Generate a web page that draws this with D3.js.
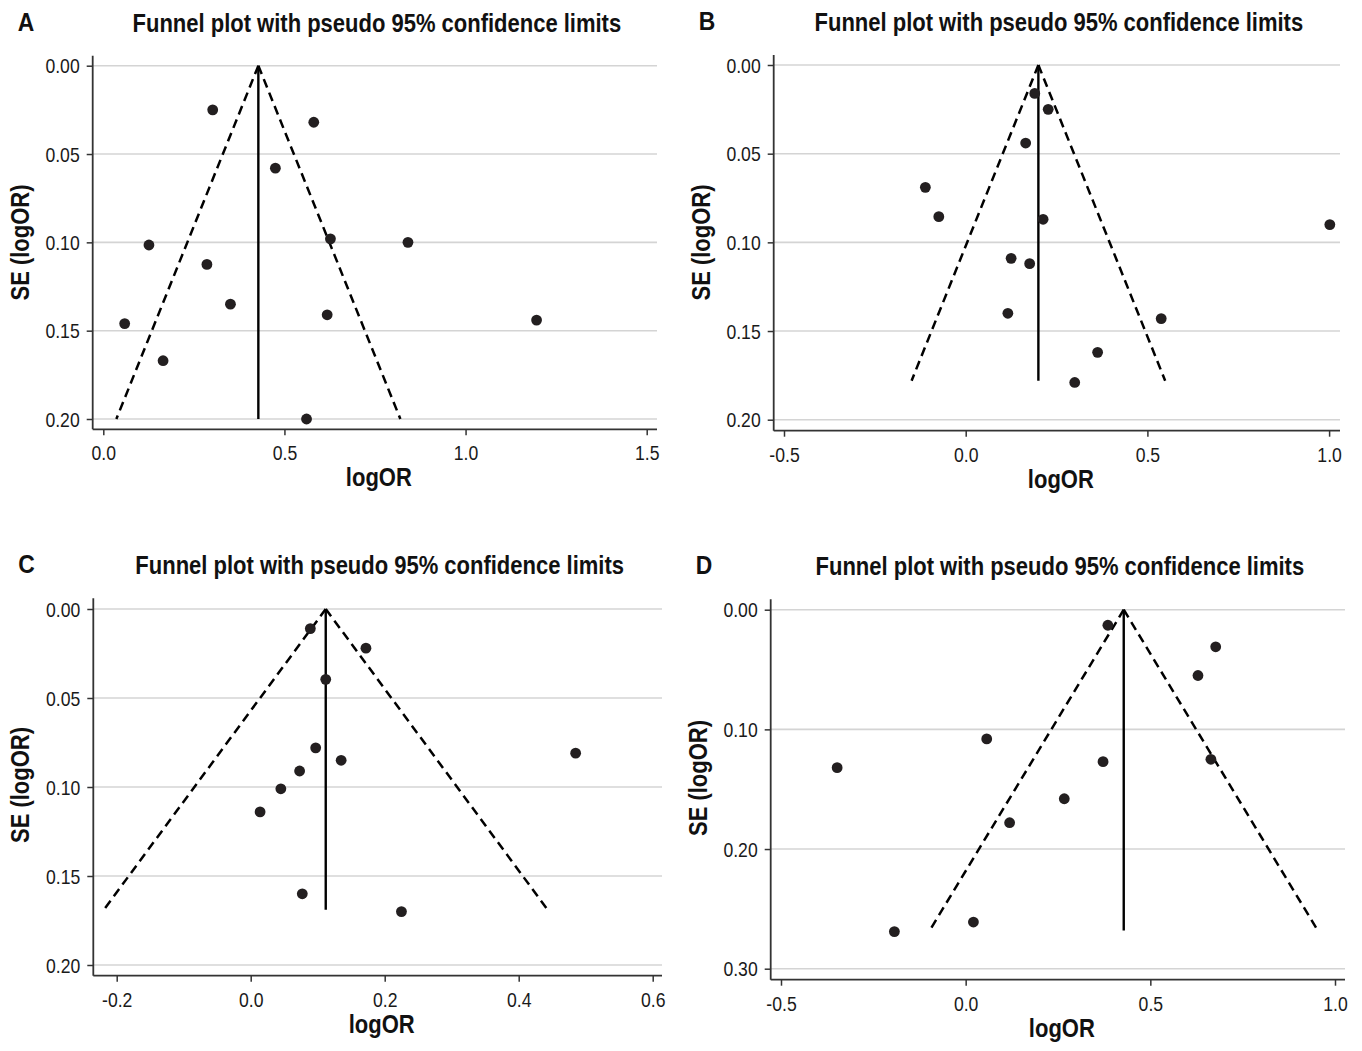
<!DOCTYPE html>
<html>
<head>
<meta charset="utf-8">
<script src="https://cdn.jsdelivr.net/npm/d3@7"></script>
<style>
  body { margin: 0; background: #fff; }
  svg { display: block; }
  .tick line { stroke: #333; stroke-width: 1.5; }
  .tick text { font-family: "Liberation Sans", Arial, sans-serif; fill: #1a1a1a; }
</style>
</head>
<body>
<div id="chart"></div>
<script>
// ---- data ----
var titleText = "Funnel plot with pseudo 95% confidence limits";
var xLabel = "logOR";
var yLabel = "SE (logOR)";

// panel A
var logorA = [0.302, 0.581, 0.475, 0.126, 0.627, 0.841, 0.286, 0.351, 0.059, 0.618, 1.196, 0.165, 0.561];
var seA    = [0.025, 0.032, 0.058, 0.1015, 0.098, 0.100, 0.1125, 0.135, 0.146, 0.141, 0.144, 0.167, 0.200];
var thetaA = 0.428, seMaxA = 0.200;
var xTicksA = [0, 0.5, 1.0, 1.5];
var yTicksA = [0, 0.05, 0.10, 0.15, 0.20];

// panel B
var logorB = [0.190, 0.227, 0.165, -0.111, -0.074, 0.213, 1.002, 0.125, 0.176, 0.116, 0.538, 0.363, 0.300];
var seB    = [0.016, 0.025, 0.044, 0.069, 0.0855, 0.087, 0.090, 0.109, 0.112, 0.140, 0.143, 0.162, 0.179];
var thetaB = 0.200, seMaxB = 0.178;
var xTicksB = [-0.5, 0, 0.5, 1.0];
var yTicksB = [0, 0.05, 0.10, 0.15, 0.20];

// panel C
var logorC = [0.089, 0.172, 0.112, 0.097, 0.135, 0.073, 0.045, 0.014, 0.485, 0.077, 0.225];
var seC    = [0.011, 0.022, 0.0395, 0.078, 0.085, 0.091, 0.101, 0.114, 0.081, 0.160, 0.170];
var thetaC = 0.112, seMaxC = 0.169;
var xTicksC = [-0.2, 0, 0.2, 0.4, 0.6];
var yTicksC = [0, 0.05, 0.10, 0.15, 0.20];

// panel D
var logorD = [0.385, 0.677, 0.629, 0.057, -0.348, 0.372, 0.664, 0.267, 0.119, 0.021, -0.193];
var seD    = [0.013, 0.031, 0.055, 0.108, 0.132, 0.127, 0.125, 0.158, 0.178, 0.261, 0.269];
var thetaD = 0.428, seMaxD = 0.268;
var xTicksD = [-0.5, 0, 0.5, 1.0];
var yTicksD = [0, 0.10, 0.20, 0.30];

// ---- layout (pixels) ----
var panels = [
    { letter: "A", x: logorA, se: seA, theta: thetaA, seMax: seMaxA, xTicks: xTicksA, yTicks: yTicksA,
      frame: { l: 92.7, r: 657, t: 55.7, b: 429.3 }, xPix: [103.3, 646.7], yPix: [65.7, 419], yTitleY: 242.5 },
    { letter: "B", x: logorB, se: seB, theta: thetaB, seMax: seMaxB, xTicks: xTicksB, yTicks: yTicksB,
      frame: { l: 773.7, r: 1340, t: 55, b: 430.7 }, xPix: [784, 1329.1], yPix: [65, 419.7], yTitleY: 242.5 },
    { letter: "C", x: logorC, se: seC, theta: thetaC, seMax: seMaxC, xTicks: xTicksC, yTicks: yTicksC,
      frame: { l: 93.3, r: 662, t: 598.3, b: 975.7 }, xPix: [116.7, 652.7], yPix: [609, 965], yTitleY: 785 },
    { letter: "D", x: logorD, se: seD, theta: thetaD, seMax: seMaxD, xTicks: xTicksD, yTicks: yTicksD,
      frame: { l: 770.7, r: 1345, t: 599.3, b: 979.7 }, xPix: [781, 1335], yPix: [609.7, 968.7], yTitleY: 778 }
];

var width = 1362, height = 1051;
var svg = d3.select("#chart").append("svg")
    .attr("width", width)
    .attr("height", height);

var font = "'Liberation Sans', Arial, sans-serif";

// the original uses a condensed face, so regular glyphs are squeezed sideways
function label(g, str, x, y, size, squeeze, anchor, rotate) {
    return g.append("text")
        .attr("transform", "translate(" + x + "," + y + ")" + (rotate ? " rotate(" + rotate + ")" : "") +
              " scale(" + squeeze + ",1)")
        .attr("text-anchor", anchor)
        .attr("font-family", font).attr("font-weight", "bold").attr("font-size", size)
        .attr("fill", "#111")
        .text(str);
}

function drawPanel(p) {
    var g = svg.append("g").attr("class", "panel");
    var f = p.frame;

    var x = d3.scaleLinear()
        .domain([p.xTicks[0], p.xTicks[p.xTicks.length - 1]])
        .range(p.xPix);
    var y = d3.scaleLinear()
        .domain([p.yTicks[0], p.yTicks[p.yTicks.length - 1]])
        .range(p.yPix);

    // gridlines
    g.selectAll(".grid")
        .data(p.yTicks)
        .enter().append("line")
        .attr("class", "grid")
        .attr("x1", f.l).attr("x2", f.r)
        .attr("y1", function (d) { return y(d); })
        .attr("y2", function (d) { return y(d); })
        .attr("stroke", "#d4d4d4")
        .attr("stroke-width", 1.6);

    // axes
    var xAxis = d3.axisBottom(x)
        .tickValues(p.xTicks)
        .tickSize(6)
        .tickFormat(function (d) { return d.toFixed(1); });
    var yAxis = d3.axisLeft(y)
        .tickValues(p.yTicks)
        .tickSize(6)
        .tickFormat(function (d) { return d.toFixed(2); });

    var gx = g.append("g").attr("transform", "translate(0," + f.b + ")").call(xAxis);
    gx.select(".domain").remove();
    gx.selectAll(".tick text")
        .attr("y", 0).attr("dy", null)
        .attr("font-size", 21)
        .attr("transform", "translate(0,31) scale(0.84,1)");

    var gy = g.append("g").attr("transform", "translate(" + f.l + ",0)").call(yAxis);
    gy.select(".domain").remove();
    gy.selectAll(".tick text")
        .attr("x", 0).attr("dy", "0.36em")
        .attr("font-size", 20)
        .attr("transform", "translate(-13,0) scale(0.88,1)");

    g.append("line")
        .attr("x1", f.l).attr("x2", f.r).attr("y1", f.b).attr("y2", f.b)
        .attr("stroke", "#333").attr("stroke-width", 1.8);
    g.append("line")
        .attr("x1", f.l).attr("x2", f.l).attr("y1", f.t).attr("y2", f.b)
        .attr("stroke", "#333").attr("stroke-width", 1.8);

    // pseudo 95% limits
    var lo = p.theta - 1.96 * p.seMax, hi = p.theta + 1.96 * p.seMax;
    var line = d3.line()
        .x(function (d) { return x(d[0]); })
        .y(function (d) { return y(d[1]); });
    [[[p.theta, 0], [lo, p.seMax]], [[p.theta, 0], [hi, p.seMax]]].forEach(function (seg) {
        g.append("path")
            .attr("d", line(seg))
            .attr("fill", "none")
            .attr("stroke", "#000")
            .attr("stroke-width", 2.5)
            .attr("stroke-dasharray", "9,5.5");
    });
    g.append("path")
        .attr("d", line([[p.theta, p.seMax], [p.theta, 0]]))
        .attr("fill", "none")
        .attr("stroke", "#000")
        .attr("stroke-width", 2.4);

    // studies
    g.selectAll(".dot")
        .data(p.x.map(function (v, i) { return [v, p.se[i]]; }))
        .enter().append("circle")
        .attr("class", "dot")
        .attr("cx", function (d) { return x(d[0]); })
        .attr("cy", function (d) { return y(d[1]); })
        .attr("r", 5.4)
        .attr("fill", "#231f20");

    // texts
    var cx = (f.l + f.r) / 2;
    label(g, titleText, cx + 2, f.t - 24, 25, 0.88, "middle");
    label(g, p.letter, f.l - 75, f.t - 25, 26, 0.88, "start");
    label(g, xLabel, cx + 4, f.b + 57, 25, 0.88, "middle");
    label(g, yLabel, f.l - 64, p.yTitleY, 25, 0.88, "middle", -90);
}

panels.forEach(drawPanel);
</script>
</body>
</html>
